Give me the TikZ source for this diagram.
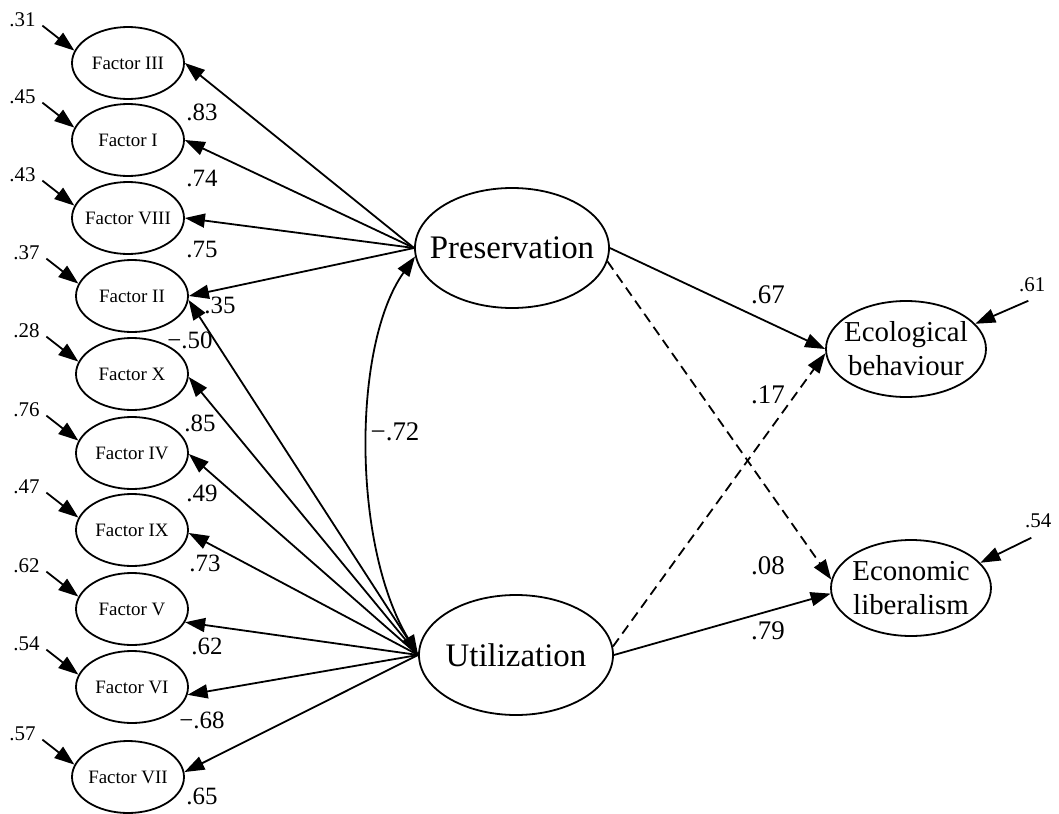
\documentclass[tikz,border=0pt]{standalone}
\usepackage{fontspec}
\setmainfont{Liberation Serif}
\usetikzlibrary{arrows.meta, shapes.geometric, calc}
\tikzstyle{factor} = [draw, ellipse, line width=0.9bp, minimum width=56bp, minimum height=36bp, inner xsep=-30bp, inner ysep=0pt, font=\fontsize{9.5}{11}\selectfont]
\tikzstyle{latent} = [draw, ellipse, line width=0.9bp, minimum width=97bp, minimum height=60bp, inner xsep=-30bp, inner ysep=0pt, font=\fontsize{16.5}{19}\selectfont]
\tikzstyle{outcome} = [draw, ellipse, line width=0.9bp, minimum width=80bp, minimum height=48bp, inner xsep=-30bp, inner ysep=0pt, align=center, font=\fontsize{14.5}{17}\selectfont]
\tikzstyle{arc} = [-{Triangle[length=10bp, width=7bp]}, line width=0.9bp]
\tikzstyle{cov} = [{Triangle[length=10bp, width=7bp]}-{Triangle[length=10bp, width=7bp]}, line width=0.9bp]
\tikzstyle{coef} = [font=\fontsize{12.5}{14}\selectfont, inner sep=0pt]
\tikzstyle{pathcoef} = [font=\fontsize{13.5}{15}\selectfont, inner sep=0pt]
\tikzstyle{resid} = [font=\fontsize{10.5}{12}\selectfont, inner sep=0pt]

\begin{document}
\begin{tikzpicture}[x=0.5bp, y=-0.5bp]
    \useasboundingbox (0,0) rectangle (1059,814);

    % Latent variables.
    \node (pres) [latent] at (512,248) {Preservation};
    \node (util) [latent] at (516,655) {Utilization};

    % Outcomes.
    \node (ecol) [outcome] at (906,349) {Ecological\\behaviour};
    \node (econ) [outcome] at (911,588) {Economic\\liberalism};

    % Indicators with residuals.
    \foreach \n/\t/\x/\y/\e in {f3/III/128/63/.31, f1/I/128/140/.45, f8/VIII/128/218/.43,
            f2/II/132/296/.37, f10/X/132/374/.28, f4/IV/132/453/.76, f9/IX/132/530/.47,
            f5/V/132/609/.62, f6/VI/132/687/.54, f7/VII/128/777/.57} {
        \node (\n) [factor] at (\x,\y) {Factor \t};
        \coordinate (e\n) at ($(\n.167)+(-32,-25)$);
        \draw [arc] (e\n) -- (\n.167);
        \node [resid] at ($(e\n)+(-20,-6)$) {\e};
    }

    % Residuals of outcomes.
    \coordinate (eecol) at ($(ecol.20)+(53,-23)$);
    \coordinate (eecon) at ($(econ.20)+(51,-25)$);
    \draw [arc] (eecol) -- (ecol.20);
    \draw [arc] (eecon) -- (econ.20);
    \node [resid] at ($(eecol)+(4,-16)$) {.61};
    \node [resid] at ($(eecon)+(7,-17)$) {.54};

    % Loadings.
    \foreach \f/\a/\v/\x/\y in {f3/0/.83/202/112, f1/0/.74/202/178, f8/0/.75/202/250, f2/0/.35/220/305} {
        \draw [arc] (pres.west) -- (\f.\a) node [coef] at (\x,\y) {\v};
    }
    \foreach \f/\a/\v/\x/\y in {f2/-4/−.50/190/340, f10/-3/.85/200/423, f4/-1/.49/202/493,
            f9/-3/.73/205/563, f5/-14/.62/207/646, f6/-8/−.68/202/720, f7/5/.65/202/796} {
        \draw [arc] (util.west) -- (\f.\a) node [coef] at (\x,\y) {\v};
    }

    % Correlation.
    \draw [cov] (util.west) .. controls (352,545) and (352,345) .. (pres.185)
        node [pathcoef] at (395,432) {−.72};

    % Structural paths.
    \draw [arc] (pres.east) -- (ecol.west) node [pathcoef] at (768,295) {.67};
    \draw [arc, dash pattern=on 5bp off 3bp] (pres.-8) -- (econ.174) node [pathcoef] at (768,566) {.08};
    \draw [arc, dash pattern=on 5bp off 3bp] (util.5) -- (ecol.183) node [pathcoef] at (768,395) {.17};
    \draw [arc] (util.east) -- (econ.184) node [pathcoef] at (768,631) {.79};
\end{tikzpicture}
\end{document}
